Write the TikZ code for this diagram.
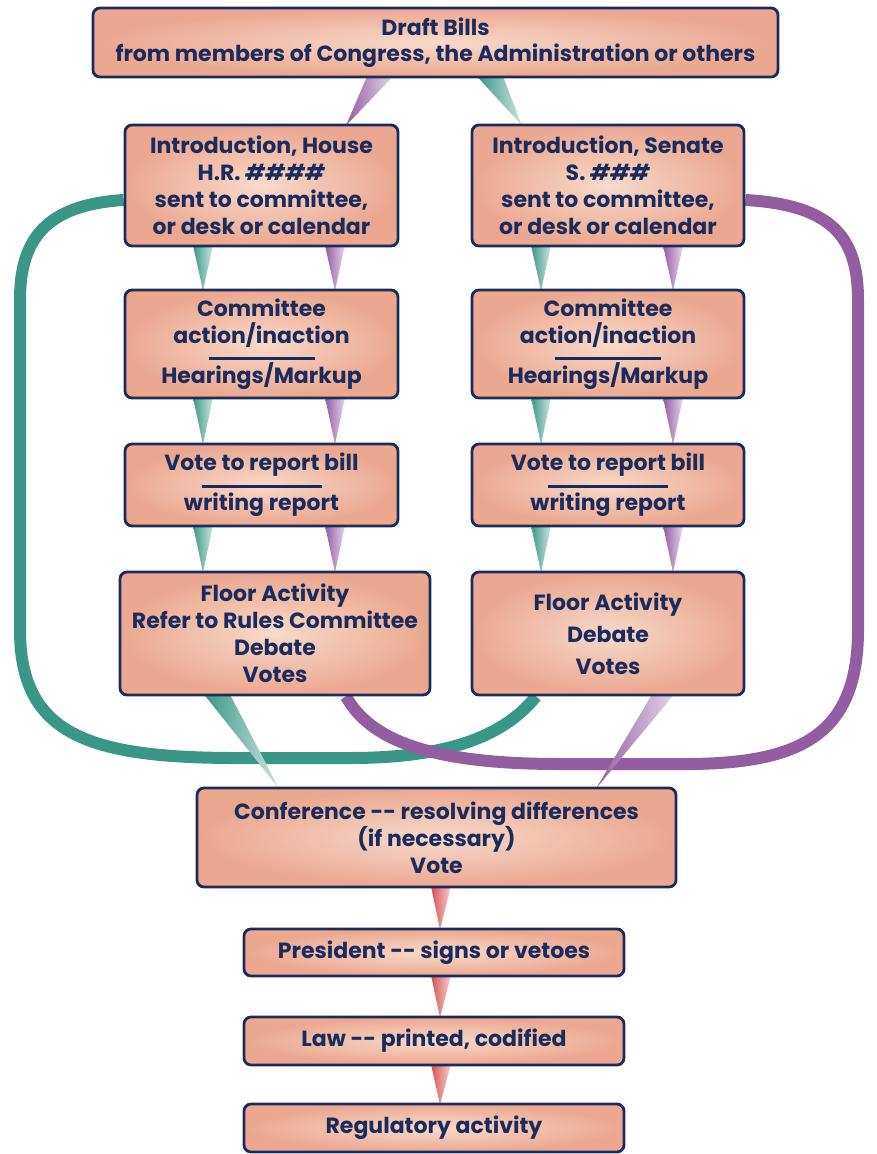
\documentclass[tikz,border=0pt]{standalone}
\usepackage{fontspec}
\setmainfont{Poppins}
\usetikzlibrary{calc}
\definecolor{navy}{HTML}{1B2C5C}
\definecolor{salA}{HTML}{F8DACB}
\definecolor{salB}{HTML}{EBA78F}
\definecolor{tealc}{HTML}{3A9686}
\definecolor{purpc}{HTML}{935DA1}
\definecolor{redc}{HTML}{D5524F}
\pgfdeclarelayer{background}
\pgfsetlayers{background,main}
% wedge connector: colour, top x, top node, bottom x, bottom node, half width
\newcommand\wedgelink[6]{%
  \shade[left color=#1, right color=#1!25!white]
    ($(#2,0 |- #3.south)+(-#6,-2)$) -- ($(#2,0 |- #3.south)+(#6,-2)$)
    -- ($(#4,0 |- #5.north)+(0,2)$) -- cycle;}
\begin{document}
\begin{tikzpicture}[x=1pt,y=-1pt,
  box/.style={draw=navy, line width=2.8pt, rounded corners=7pt,
    inner color=salA, outer color=salB, text=navy, align=center,
    font=\bfseries\fontsize{22}{27}\selectfont, inner sep=0pt},
  ribbon/.style={line width=12pt}]
\useasboundingbox (0,0) rectangle (877,1154);

\node[box, minimum width=685, minimum height=69] (draft) at (435.5,42.5)
  {Draft Bills\\[-1pt]from members of Congress, the Administration or others};

\node[box, minimum width=273, minimum height=121] (intH) at (261.5,185.5)
  {Introduction, House\\H.R. \textit{\#\#\#\#}\\sent to committee,\\or desk or calendar};
\node[box, minimum width=272, minimum height=121] (intS) at (608,185.5)
  {Introduction, Senate\\S. \textit{\#\#\#}\\sent to committee,\\or desk or calendar};

\node[box, minimum width=273, minimum height=108] (comH) at (261.5,344)
  {Committee\\action/inaction\\[-10pt]\rule{106pt}{3pt}\\[-4pt]Hearings/Markup};
\node[box, minimum width=272, minimum height=108] (comS) at (608,344)
  {Committee\\action/inaction\\[-10pt]\rule{106pt}{3pt}\\[-4pt]Hearings/Markup};

\node[box, minimum width=273, minimum height=82] (votH) at (261.5,485)
  {Vote to report bill\\[-10pt]\rule{120pt}{3pt}\\[-4pt]writing report};
\node[box, minimum width=272, minimum height=82] (votS) at (608,485)
  {Vote to report bill\\[-10pt]\rule{120pt}{3pt}\\[-4pt]writing report};

\node[box, minimum width=310, minimum height=123] (flH) at (275,633.5)
  {Floor Activity\\Refer to Rules Committee\\Debate\\Votes};
\node[box, minimum width=272, minimum height=123] (flS) at (608,633.5)
  {Floor Activity\\[5pt]Debate\\[5pt]Votes};

\node[box, minimum width=479, minimum height=99] (conf) at (436.5,837.5)
  {Conference -{}- resolving differences\\(if necessary)\\Vote};
\node[box, minimum width=380, minimum height=47] (pres) at (434,952.5)
  {President -{}- signs or vetoes};
\node[box, minimum width=380, minimum height=48] (law) at (434,1041)
  {Law -{}- printed, codified};
\node[box, minimum width=380, minimum height=48] (reg) at (434,1128)
  {Regulatory activity};

\begin{pgfonlayer}{background}
  % long ribbons
  \draw[tealc, ribbon] (intH.west |- 0,200)
    .. controls (45,205) and (20,240) .. (20,300) -- (20,630)
    .. controls (20,735) and (90,757) .. (230,758) -- (350,758)
    .. controls (450,758) and (505,735) .. (536,0 |- flS.south);
  \draw[purpc, ribbon] (intS.east |- 0,200)
    .. controls (835,205) and (858,240) .. (858,300) -- (858,630)
    .. controls (858,735) and (800,763) .. (690,764) -- (560,764)
    .. controls (430,764) and (370,740) .. (346,0 |- flH.south);
  % wedges
  \wedgelink{purpc}{380}{draft}{346}{intH}{13}
  \wedgelink{tealc}{490}{draft}{522}{intS}{13}
  \wedgelink{tealc}{203}{intH}{203}{comH}{10}
  \wedgelink{purpc}{335}{intH}{335}{comH}{10}
  \wedgelink{tealc}{541}{intS}{541}{comS}{10}
  \wedgelink{purpc}{673}{intS}{673}{comS}{10}
  \wedgelink{tealc}{203}{comH}{203}{votH}{10}
  \wedgelink{purpc}{335}{comH}{335}{votH}{10}
  \wedgelink{tealc}{541}{comS}{541}{votS}{10}
  \wedgelink{purpc}{673}{comS}{673}{votS}{10}
  \wedgelink{tealc}{203}{votH}{203}{flH}{10}
  \wedgelink{purpc}{335}{votH}{335}{flH}{10}
  \wedgelink{tealc}{541}{votS}{541}{flS}{10}
  \wedgelink{purpc}{673}{votS}{673}{flS}{10}
  \wedgelink{tealc}{217}{flH}{279}{conf}{13}
  \wedgelink{purpc}{663}{flS}{596}{conf}{11}
  \wedgelink{redc}{441}{conf}{440}{pres}{10}
  \wedgelink{redc}{441}{pres}{440}{law}{10}
  \wedgelink{redc}{441}{law}{440}{reg}{10}
\end{pgfonlayer}
\end{tikzpicture}
\end{document}
